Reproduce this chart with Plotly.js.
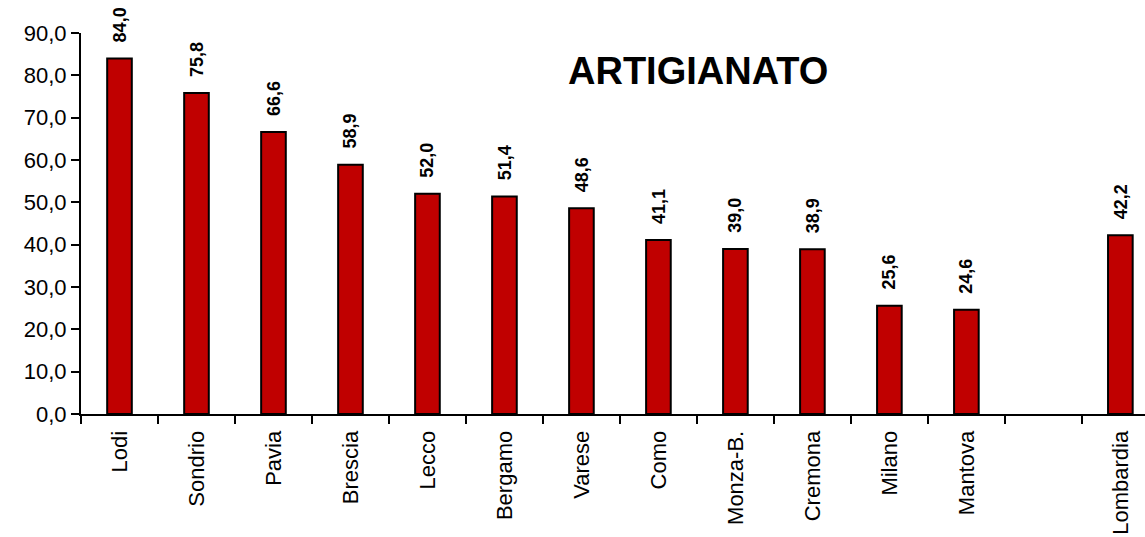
<!DOCTYPE html>
<html><head><meta charset="utf-8">
<script src="https://cdn.plot.ly/plotly-3.0.1.min.js"></script>
<style>html,body{margin:0;padding:0;background:#fff;}#chart{width:1145px;height:537px;}</style>
</head><body><div id="chart"></div>
<script>
const categories = ["Lodi","Sondrio","Pavia","Brescia","Lecco","Bergamo","Varese","Como","Monza-B.","Cremona","Milano","Mantova"," ","Lombardia"];
const values = [84.0,75.8,66.6,58.9,52.0,51.4,48.6,41.1,39.0,38.9,25.6,24.6,null,42.2];
const labels = ["84,0","75,8","66,6","58,9","52,0","51,4","48,6","41,1","39,0","38,9","25,6","24,6","","42,2"];
const yTicks = [0,10,20,30,40,50,60,70,80,90];
const yTickText = ["0,0","10,0","20,0","30,0","40,0","50,0","60,0","70,0","80,0","90,0"];
const titleText = "ARTIGIANATO";

const font = "Liberation Sans, Arial, sans-serif";
const annotations = [];
categories.forEach((c,i)=>{
  if(values[i]===null) return;
  annotations.push({x:c, y:values[i], xref:'x', yref:'y', text:'<b>'+labels[i]+'</b>', textangle:-90,
    showarrow:false, yanchor:'bottom', xanchor:'center', yshift:14, font:{family:font,size:18,color:'#000'}});
});
annotations.push({xref:'paper', yref:'paper', x:0.58, y:0.90, text:'<b>'+titleText+'</b>', showarrow:false,
  font:{family:font,size:38,color:'#000'}, xanchor:'center', yanchor:'middle'});

const trace = {type:'bar', x:categories, y:values, width:0.32,
  marker:{color:'#C00000', line:{color:'#000', width:2}}, hoverinfo:'none'};

const layout = {
  width:1145, height:537, margin:{l:81,r:0,t:33,b:123,pad:0},
  paper_bgcolor:'#fff', plot_bgcolor:'#fff', showlegend:false,
  font:{family:font,size:22,color:'#000'},
  xaxis:{type:'category', range:[-0.5,13.32], tickangle:-90, ticks:'outside', ticklen:8, tickwidth:2,
    tickcolor:'#000', tickson:'boundaries', showline:true, linecolor:'#000', linewidth:2, showgrid:false,
    ticklabelstandoff:6,
    tickfont:{family:font,size:22,color:'#000'}, automargin:false},
  yaxis:{range:[0,90], tickvals:yTicks, ticktext:yTickText, ticks:'outside', ticklen:8, tickwidth:2,
    tickcolor:'#000', showline:true, linecolor:'#000', linewidth:2, showgrid:false, zeroline:false,
    tickfont:{family:font,size:22,color:'#000'}, automargin:false},
  annotations:annotations
};
Plotly.newPlot('chart',[trace],layout,{displayModeBar:false,staticPlot:true});
</script></body></html>
